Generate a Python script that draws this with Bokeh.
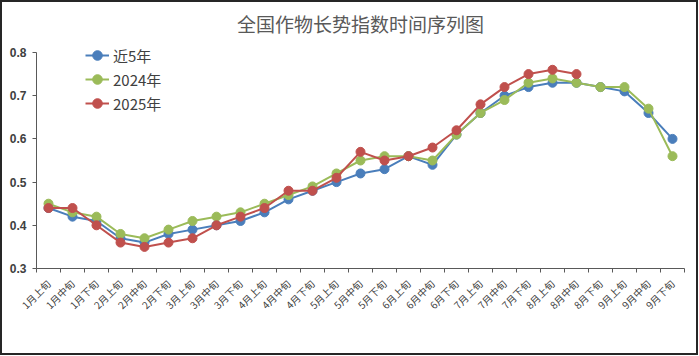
import numpy as np
from bokeh.plotting import figure
from bokeh.models import FixedTicker, NumeralTickFormatter, Range1d, Legend, LegendItem, ColumnDataSource, Title
from bokeh.embed import file_html
from bokeh.resources import INLINE

categories = ["1月上旬", "1月中旬", "1月下旬", "2月上旬", "2月中旬", "2月下旬",
              "3月上旬", "3月中旬", "3月下旬", "4月上旬", "4月中旬", "4月下旬",
              "5月上旬", "5月中旬", "5月下旬", "6月上旬", "6月中旬", "6月下旬",
              "7月上旬", "7月中旬", "7月下旬", "8月上旬", "8月中旬", "8月下旬",
              "9月上旬", "9月中旬", "9月下旬"]
near5 = [0.44, 0.42, 0.41, 0.37, 0.36, 0.38, 0.39, 0.40, 0.41, 0.43, 0.46, 0.48,
         0.50, 0.52, 0.53, 0.56, 0.54, 0.61, 0.66, 0.70, 0.72, 0.73, 0.73, 0.72,
         0.71, 0.66, 0.60]
y2024 = [0.45, 0.43, 0.42, 0.38, 0.37, 0.39, 0.41, 0.42, 0.43, 0.45, 0.47, 0.49,
         0.52, 0.55, 0.56, 0.56, 0.55, 0.61, 0.66, 0.69, 0.73, 0.74, 0.73, 0.72,
         0.72, 0.67, 0.56]
y2025 = [0.44, 0.44, 0.40, 0.36, 0.35, 0.36, 0.37, 0.40, 0.42, 0.44, 0.48, 0.48,
         0.51, 0.57, 0.55, 0.56, 0.58, 0.62, 0.68, 0.72, 0.75, 0.76, 0.75]
series_names = ["近5年", "2024年", "2025年"]
y_ticks = [0.3, 0.4, 0.5, 0.6, 0.7, 0.8]

colors = ["#4A7EBB", "#9BBB59", "#C0504D"]

n = len(categories)
centers = [i + 0.5 for i in range(n)]

p = figure(width=698, height=355, output_backend="svg", toolbar_location=None,
           x_range=Range1d(0, n), y_range=Range1d(0.3, 0.8278),
           min_border_left=34, min_border_right=16, min_border_top=38, min_border_bottom=89)
p.title = Title(text="全国作物长势指数时间序列图", align="center",
                text_font="Noto Sans CJK SC", text_font_size="19px",
                text_font_style="normal", text_color="#595959", offset=-11, standoff=8)
p.outline_line_color = None
p.xgrid.visible = False
p.ygrid.visible = False
p.background_fill_color = "white"
p.border_fill_color = "white"
p.styles = {"border": "2px solid #262626"}

xa = p.xaxis[0]
xa.ticker = FixedTicker(ticks=centers, minor_ticks=list(range(0, n + 1)))
xa.major_label_overrides = {c: lab for c, lab in zip(centers, categories)}
xa.major_label_orientation = np.pi / 4
xa.major_tick_out = 0
xa.major_tick_in = 0
xa.minor_tick_out = 4
xa.minor_tick_in = 0
xa.axis_line_color = "#595959"
xa.minor_tick_line_color = "#595959"
xa.major_label_text_font = "Noto Sans CJK SC"
xa.major_label_text_font_size = "10px"
xa.major_label_text_color = "#404040"
xa.major_label_standoff = 9

ya = p.yaxis[0]
ya.ticker = FixedTicker(ticks=y_ticks)
ya.formatter = NumeralTickFormatter(format="0.0")
ya.bounds = (0.3, 0.8)
ya.minor_tick_line_color = None
ya.major_tick_out = 4
ya.major_tick_in = 0
ya.axis_line_color = "#595959"
ya.major_tick_line_color = "#595959"
ya.major_label_text_font = "Liberation Sans"
ya.major_label_text_font_style = "bold"
ya.major_label_text_font_size = "12px"
ya.major_label_text_color = "#404040"
ya.major_label_standoff = 6

items = []
for name, vals, col in zip(series_names, [near5, y2024, y2025], colors):
    src = ColumnDataSource(dict(x=centers[:len(vals)], y=vals))
    r1 = p.line("x", "y", source=src, line_color=col, line_width=2)
    r2 = p.scatter("x", "y", source=src, size=9, fill_color=col, line_color=col)
    items.append(LegendItem(label=name, renderers=[r1, r2]))

legend = Legend(items=items, location=(49, 153), orientation="vertical",
                label_text_font="Noto Sans CJK SC", label_text_font_size="15px",
                label_text_color="#404040", glyph_width=24, glyph_height=24,
                label_height=24, spacing=0, padding=0, margin=0, label_standoff=4,
                background_fill_alpha=0, border_line_color=None)
p.add_layout(legend)

open("out.html", "w").write(file_html(p, INLINE))
